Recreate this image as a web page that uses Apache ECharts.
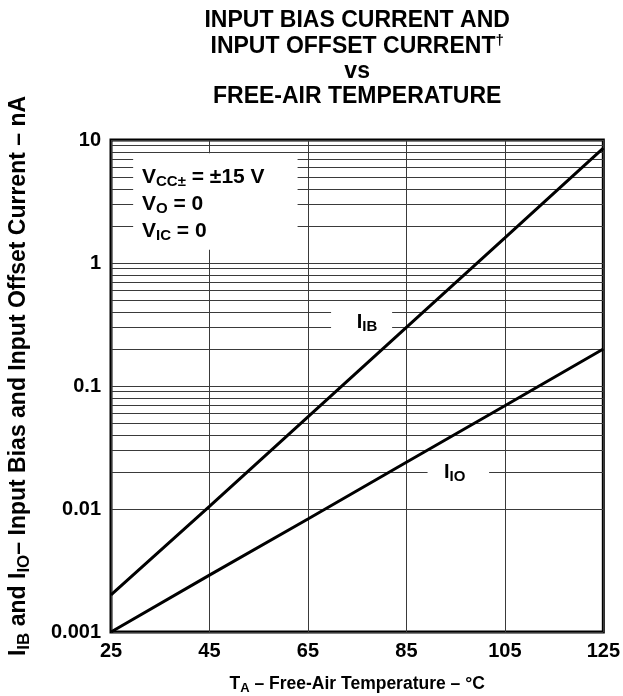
<!DOCTYPE html>
<html><head><meta charset="utf-8">
<script src="https://cdn.jsdelivr.net/npm/echarts@6/dist/echarts.min.js"></script>
<style>html,body{margin:0;padding:0;background:#fff}#c{width:623px;height:696px}</style>
</head><body><div id="c"></div>
<script>
// ---- data ----
const temps = [25, 45, 65, 85, 105, 125];
const iibValues = [0.002, 0.0105, 0.056, 0.3, 1.6, 8.6];
const iioValues = [0.001, 0.0029, 0.0083, 0.024, 0.069, 0.2];
const xTickLabels = ['25', '45', '65', '85', '105', '125'];
const yTickLabels = ['0.001', '0.01', '0.1', '1', '10'];
const minorSteps = [2, 3, 4, 5, 6, 7, 8, 9];
const decades = [0.001, 0.01, 0.1, 1];

const FONT = '"Liberation Sans", Arial, Helvetica, sans-serif';
const minorLines = [];
decades.forEach(d => minorSteps.forEach(m => minorLines.push({ yAxis: +(d * m).toPrecision(3) })));

const chart = echarts.init(document.getElementById('c'), null, { renderer: 'canvas' });
const gridColor = '#3a3a3a';
chart.setOption({
  animation: false,
  grid: { left: 111, right: 18, top: 140, bottom: 64, show: true, borderColor: '#000', borderWidth: 3, backgroundColor: 'rgba(0,0,0,0)' },
  xAxis: {
    type: 'value', min: 25, max: 125, interval: 20,
    axisLine: { show: false }, axisTick: { show: false },
    axisLabel: { color: '#000', fontSize: 20, fontWeight: 'bold', fontFamily: FONT, margin: 9,
      formatter: v => { const i = temps.indexOf(Math.round(v)); return i >= 0 ? xTickLabels[i] : ''; } },
    splitLine: { show: true, lineStyle: { color: gridColor, width: 1 } }
  },
  yAxis: {
    type: 'log', logBase: 10, min: 0.001, max: 10,
    axisLine: { show: false }, axisTick: { show: false },
    axisLabel: { color: '#000', fontSize: 20, fontWeight: 'bold', fontFamily: FONT, margin: 10,
      formatter: v => yTickLabels[Math.round(Math.log10(v)) + 3] },
    splitLine: { show: true, lineStyle: { color: gridColor, width: 1 } },
    minorTick: { show: false }, minorSplitLine: { show: false }
  },
  series: [
    { type: 'line', name: 'IIB', data: temps.map((t, i) => [t, iibValues[i]]), showSymbol: false, symbol: 'none',
      lineStyle: { color: '#000', width: 3 }, z: 30,
      markLine: { silent: true, symbol: 'none', z: 1, animation: false, label: { show: false },
        lineStyle: { color: gridColor, width: 1, type: 'solid' }, data: minorLines } },
    { type: 'line', name: 'IIO', data: temps.map((t, i) => [t, iioValues[i]]), showSymbol: false, symbol: 'none',
      lineStyle: { color: '#000', width: 3 }, z: 30 }
  ]
});

const px = (x, y) => chart.convertToPixel({ gridIndex: 0 }, [x, y]);
function box(x0, x1, yLo, yHi) {
  const a = px(x0, yHi), b = px(x1, yLo);
  return { type: 'rect', z: 20, silent: true, shape: { x: a[0], y: a[1], width: b[0] - a[0], height: b[1] - a[1] }, style: { fill: '#fff' } };
}
const rich = (fs, sub) => ({
  m: { fontSize: fs, fontWeight: 'bold', fontFamily: FONT, fill: '#000', lineHeight: fs + 4 },
  s: { fontSize: sub, fontWeight: 'bold', fontFamily: FONT, fill: '#000', lineHeight: sub, verticalAlign: 'bottom' },
  p: { fontSize: sub, fontWeight: 'bold', fontFamily: FONT, fill: '#000', lineHeight: sub, verticalAlign: 'top' }
});
function txt(text, x, y, fs, sub, align, rot) {
  return { type: 'text', z: 40, silent: true, x: x, y: y, rotation: rot || 0,
    style: { text: text, rich: rich(fs, sub), align: align || 'center', verticalAlign: 'middle', fill: '#000' } };
}
const pv1 = px(31.3, 5.0), pv2 = px(31.3, 3.0), pv3 = px(31.3, 1.82);
const pib = px(77.0, 0.33), pio = px(94.8, 0.0197);
const gl = px(25, 0.001), gr = px(125, 10);
const cx = (gl[0] + gr[0]) / 2;
chart.setOption({
  graphic: [
    box(29.5, 62.9, 1.28, 7.8),
    box(69.7, 82.1, 0.237, 0.456),
    box(89.3, 101.8, 0.0154, 0.025),
    txt('{m|V}{s|CC±}{m| = ±15 V}', pv1[0], pv1[1], 21, 15, 'left'),
    txt('{m|V}{s|O}{m| = 0}', pv2[0], pv2[1], 21, 15, 'left'),
    txt('{m|V}{s|IC}{m| = 0}', pv3[0], pv3[1], 21, 15, 'left'),
    txt('{m|I}{s|IB}', pib[0], pib[1], 20, 15, 'center'),
    txt('{m|I}{s|IO}', pio[0], pio[1], 20, 15, 'center'),
    txt('{m|INPUT BIAS CURRENT AND}', cx, 21, 23, 15, 'center'),
    txt('{m|INPUT OFFSET CURRENT}{p|†}', cx, 47, 23, 15, 'center'),
    txt('{m|vs}', cx, 72, 23, 15, 'center'),
    txt('{m|FREE-AIR TEMPERATURE}', cx, 97, 23, 15, 'center'),
    txt('{m|T}{s|A}{m| – Free-Air Temperature – °C}', cx, 684, 17.5, 13, 'center'),
    txt('{m|I}{s|IB}{m| and }{m|I}{s|IO}{m|– Input Bias and Input Offset Current – nA}', 19, 376, 23, 17, 'center', Math.PI / 2)
  ]
});
</script></body></html>
